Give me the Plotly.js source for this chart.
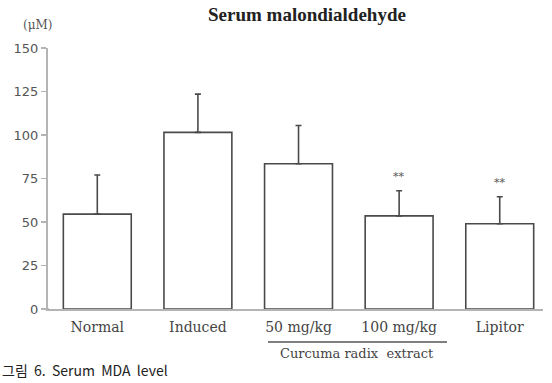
<!DOCTYPE html>
<html><head><meta charset="utf-8">
<script src="https://cdn.plot.ly/plotly-3.0.1.min.js"></script>
<style>html,body{margin:0;padding:0;background:#fff;}#chart{width:552px;height:383px;}</style>
</head><body><div id="chart"></div>
<script>
var categories = ["Normal", "Induced", "50 mg/kg", "100 mg/kg", "Lipitor"];
var means = [54.5, 101.5, 83.5, 53.5, 49];
var errUp = [22.5, 22, 22, 14.5, 15.5];
var signif = ["", "", "", "**", "**"];
var yTicks = [0, 25, 50, 75, 100, 125, 150];

var xs = categories.map(function(c, i){ return i; });
var trace = {
  type: 'bar', x: xs, y: means, width: 0.675,
  marker: {color: '#ffffff', line: {color: '#4a4a4a', width: 1.6}},
  error_y: {type: 'data', symmetric: false, array: errUp, arrayminus: means.map(function(){return 0;}),
            color: '#4a4a4a', thickness: 1.6, width: 3},
  hoverinfo: 'skip'
};
var pw = 552 - 48 - 9, ph = 383 - 48 - 74;
function px(x){ return (x - 48) / pw; }
function py(y){ return (383 - 74 - y) / ph; }
var annotations = [];
signif.forEach(function(s, i){
  if (s) annotations.push({x: xs[i], y: means[i] + errUp[i], xref: 'x', yref: 'y', text: s, showarrow: false,
    yshift: 14, font: {family: 'DejaVu Serif', size: 11, color: '#555555'}});
});
annotations.push({x: px(307), y: py(14), xref: 'paper', yref: 'paper', showarrow: false, xanchor: 'center', yanchor: 'middle',
  text: '<b>Serum malondialdehyde</b>', font: {family: 'Liberation Serif', size: 19, color: '#222222'}});
annotations.push({x: px(37), y: py(25), xref: 'paper', yref: 'paper', showarrow: false, text: '(μM)', xanchor: 'center', yanchor: 'middle',
  font: {family: 'DejaVu Serif', size: 12, color: '#555555'}});
annotations.push({x: px(357), y: py(353), xref: 'paper', yref: 'paper', showarrow: false, text: 'Curcuma radix  extract',
  xanchor: 'center', yanchor: 'middle', font: {family: 'DejaVu Serif', size: 13, color: '#444444'}});
annotations.push({x: px(0), y: py(382), xref: 'paper', yref: 'paper', showarrow: false, xanchor: 'left', yanchor: 'bottom',
  text: '그림  6.  Serum  MDA  level', font: {family: 'Noto Sans CJK KR', size: 14, color: '#222222'}});
var layout = {
  width: 552, height: 383, margin: {l: 48, r: 9, t: 48, b: 74},
  paper_bgcolor: '#fff', plot_bgcolor: '#fff', showlegend: false,
  xaxis: {range: [-0.49, 4.43], tickvals: xs, ticktext: categories, showline: true, linecolor: '#b4b4b4', linewidth: 2,
          ticks: '', showgrid: false, zeroline: false, fixedrange: true, ticklabelstandoff: 4,
          tickfont: {family: 'DejaVu Serif', size: 14, color: '#444444'}},
  yaxis: {range: [0, 150], tickvals: yTicks, showline: true, linecolor: '#b4b4b4', linewidth: 2, ticks: 'outside',
          ticklen: 5, tickcolor: '#b4b4b4', tickwidth: 1.5, showgrid: false, zeroline: false,
          tickfont: {family: 'DejaVu Sans', size: 13, color: '#555555'}},
  annotations: annotations,
  shapes: [
    {type: 'line', xref: 'paper', yref: 'paper', x0: px(268), x1: px(447), y0: py(342), y1: py(342), line: {color: '#555', width: 1.3}},
    {type: 'line', xref: 'paper', yref: 'paper', x0: px(42), x1: px(49), y0: 0, y1: 0, line: {color: '#b4b4b4', width: 2}}
  ]
};
Plotly.newPlot('chart', [trace], layout, {displayModeBar: false, staticPlot: true});
</script></body></html>
